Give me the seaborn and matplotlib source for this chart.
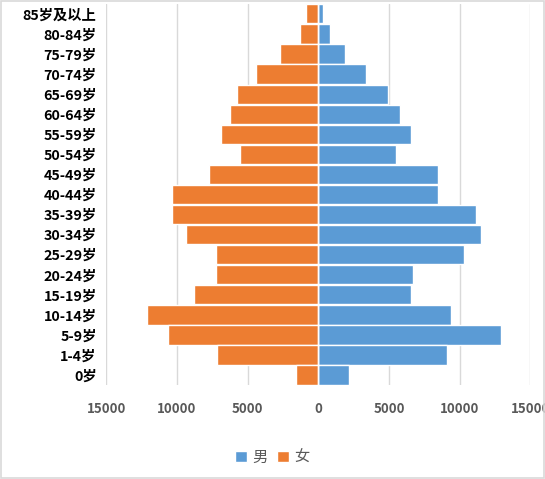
import pandas as pd
import matplotlib
matplotlib.use("Agg")
import matplotlib.pyplot as plt
import seaborn as sns
from matplotlib.ticker import FuncFormatter
from matplotlib.patches import Patch, Rectangle

# ---------------------------
# Data
# ---------------------------
age_groups = ["0岁", "1-4岁", "5-9岁", "10-14岁", "15-19岁", "20-24岁", "25-29岁",
              "30-34岁", "35-39岁", "40-44岁", "45-49岁", "50-54岁", "55-59岁",
              "60-64岁", "65-69岁", "70-74岁", "75-79岁", "80-84岁", "85岁及以上"]
male = [2160, 9090, 12900, 9390, 6540, 6680, 10300, 11500, 11130, 8450, 8450,
        5480, 6540, 5770, 4910, 3370, 1890, 810, 320]
female = [1570, 7170, 10640, 12110, 8800, 7250, 7250, 9360, 10340, 10340, 7740,
          5550, 6880, 6240, 5750, 4400, 2700, 1300, 890]

df = pd.DataFrame({"age": age_groups, "男": male, "女": [-v for v in female]})
order = age_groups[::-1]  # top row first

blue = "#5B9BD5"
orange = "#ED7D31"

sns.set_style("white")
plt.rcParams['font.family'] = ['Noto Sans CJK SC', 'DejaVu Sans']

fig = plt.figure(figsize=(5.45, 4.79), dpi=100)
ax = fig.add_axes([0.195, 0.196, 0.778, 0.796])

sns.barplot(data=df, x="男", y="age", order=order, orient="h", color=blue,
            width=0.96, saturation=1, ax=ax, zorder=3)
sns.barplot(data=df, x="女", y="age", order=order, orient="h", color=orange,
            width=0.96, saturation=1, ax=ax, zorder=3)

ax.set_xlim(-15000, 15000)
ax.set_xticks(range(-15000, 15001, 5000))
ax.xaxis.set_major_formatter(FuncFormatter(lambda v, p: f"{abs(int(v))}"))
ax.set_ylim(len(order) - 0.5, -0.5)
ax.set_xlabel("")
ax.set_ylabel("")
ax.grid(axis="x", color="#d9d9d9", linewidth=1, zorder=0)
ax.axvline(0, color="white", linewidth=1, zorder=4)
for s in ax.spines.values():
    s.set_visible(False)

ax.tick_params(axis="x", length=0, pad=12, labelsize=9.5, labelcolor="#595959")
ax.tick_params(axis="y", length=0, pad=7, labelsize=10.3, labelcolor="black")
for lab in ax.get_xticklabels():
    lab.set_fontweight("bold")
for lab in ax.get_yticklabels():
    lab.set_fontweight("bold")

handles = [Patch(facecolor=blue, label="男"), Patch(facecolor=orange, label="女")]
fig.legend(handles=handles, loc="center", bbox_to_anchor=(0.5, 0.046), ncol=2,
           frameon=False, fontsize=11, handlelength=0.75, handleheight=0.75,
           handletextpad=0.4, columnspacing=0.6, labelcolor="#595959")

fig.patches.append(Rectangle((0.002, 0.002), 0.996, 0.996, transform=fig.transFigure,
                             fill=False, edgecolor="#d9d9d9", linewidth=1.2))

fig.savefig("out.png", dpi=100)
